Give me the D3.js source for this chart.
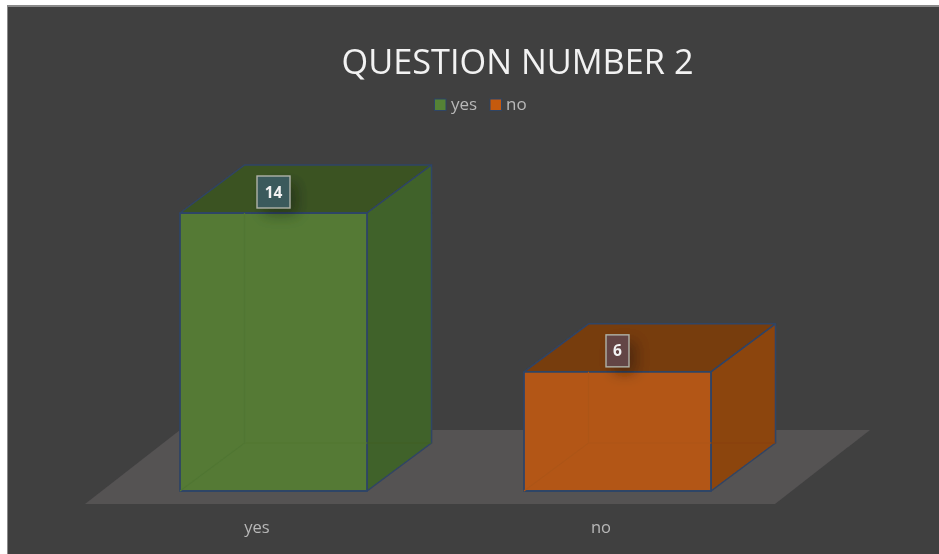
<!DOCTYPE html>
<html><head><meta charset="utf-8">
<script src="https://cdn.jsdelivr.net/npm/d3@7/dist/d3.min.js"></script>
<style>html,body{margin:0;padding:0;background:#fff;overflow:hidden}svg{display:block}text{font-family:"Open Sans",sans-serif}</style>
</head><body><div id="c"></div>
<script>
const titleText = "QUESTION NUMBER 2";
const categories = ["yes","no"];
const values = [14,6];
const faceFront = ["#547a35","#b35714"];
const faceTop = ["#3b5324","#773c10"];
const faceSide = ["#416229","#8c4410"];
const labelFill = ["#3b5a5c","#644545"];
const legendFill = ["#548235","#c55a11"];

const W=939,H=554;
const svg=d3.select("#c").append("svg").attr("width",W).attr("height",H);
const defs=svg.append("defs");
defs.append("filter").attr("id","soft").attr("filterUnits","userSpaceOnUse").attr("x",0).attr("y",0).attr("width",W).attr("height",H)
  .append("feGaussianBlur").attr("stdDeviation",0.6);
const sh=defs.append("filter").attr("id","sh").attr("x","-60%").attr("y","-60%").attr("width","220%").attr("height","220%");
sh.append("feGaussianBlur").attr("stdDeviation",7);

svg.append("rect").attr("x",7).attr("y",5).attr("width",W-7).attr("height",H-5).attr("fill","#8a8a8a");
svg.append("rect").attr("x",8).attr("y",7).attr("width",W-8).attr("height",H-7).attr("fill","#404040");
const g=svg.append("g").attr("filter","url(#soft)");

const x=d3.scaleBand().domain(categories).range([85,773]);
const y=d3.scaleLinear().domain([0,14]).range([491,213]);
const barW=x.bandwidth()*0.5436, barOff=(x.bandwidth()-barW)/2+16.5;
const depthX=64.5, depthY=48;
const line=d3.line();

// floor
const fx0=85, fx1=775, fy0=504, fDy=74, fDx=95;
g.append("path").attr("fill","#545253")
 .attr("d",line([[fx0,fy0],[fx1,fy0],[fx1+fDx,fy0-fDy],[fx0+fDx,fy0-fDy]])+"Z");

const edge="#2f4466";
categories.forEach((c,i)=>{
  const l=x(c)+barOff, r=l+barW, b=y(0), t=y(values[i]);
  const bar=g.append("g");
  bar.append("path").attr("fill",faceTop[i]).attr("stroke",edge).attr("stroke-width",1.5).attr("stroke-linejoin","round")
    .attr("d",line([[l,t],[r,t],[r+depthX,t-depthY],[l+depthX,t-depthY]])+"Z");
  bar.append("path").attr("fill",faceSide[i]).attr("stroke",edge).attr("stroke-width",1.5).attr("stroke-linejoin","round")
    .attr("d",line([[r,t],[r+depthX,t-depthY],[r+depthX,b-depthY],[r,b]])+"Z");
  bar.append("path").attr("fill",faceFront[i]).attr("stroke",edge).attr("stroke-width",1.8).attr("stroke-linejoin","round")
    .attr("d",line([[l,t],[r,t],[r,b],[l,b]])+"Z");
  const inner=d3.color(faceFront[i]).darker(0.1).formatHex();
  bar.append("path").attr("fill","none").attr("stroke",inner).attr("stroke-width",1.2)
    .attr("d",line([[l,b],[l+depthX,b-depthY],[r,b-depthY]])+line([[l+depthX,t],[l+depthX,b-depthY]]));
  bar.append("path").attr("fill","none").attr("stroke",d3.color(faceSide[i]).darker(0.1).formatHex()).attr("stroke-width",1.2)
    .attr("d",line([[r,b-depthY],[r+depthX,b-depthY]]));
  const cx=(l+r)/2, cy=t-21, hw=String(values[i]).length>1?16.5:11.5, hh=16;
  g.append("rect").attr("x",cx-hw+7).attr("y",cy-hh+7).attr("width",hw*2).attr("height",hh*2)
    .attr("fill","#000").attr("opacity",0.32).attr("filter","url(#sh)");
  g.append("rect").attr("x",cx-hw).attr("y",cy-hh).attr("width",hw*2).attr("height",hh*2)
    .attr("fill",labelFill[i]).attr("stroke","#b0b3a8").attr("stroke-width",1.4);
  g.append("text").attr("x",cx).attr("y",cy+5.5).attr("text-anchor","middle")
    .attr("fill","#f2f2f2").attr("font-size",15.5).attr("font-weight",700).text(values[i]);
});

// category labels
const xAxis=d3.axisBottom(x).tickSize(0).tickPadding(0);
const ax=g.append("g").attr("transform","translate(0,521.5)").call(xAxis);
ax.select(".domain").remove();
ax.selectAll("text").attr("fill","#b8b8b8").attr("font-size",16.5).attr("font-family",'"Open Sans",sans-serif');

// title
g.append("text").attr("x",517.5).attr("y",74).attr("text-anchor","middle")
 .attr("fill","#f2f2f2").attr("font-size",34.3).text(titleText);

// legend
const legX=[434.5,490], legTX=[451,506];
categories.forEach((c,i)=>{
  g.append("rect").attr("x",legX[i]).attr("y",99).attr("width",11.5).attr("height",11.5)
   .attr("fill",legendFill[i]).attr("stroke",edge).attr("stroke-width",1);
  g.append("text").attr("x",legTX[i]).attr("y",110).attr("fill","#b8b8b8").attr("font-size",17).text(c);
});
</script></body></html>
